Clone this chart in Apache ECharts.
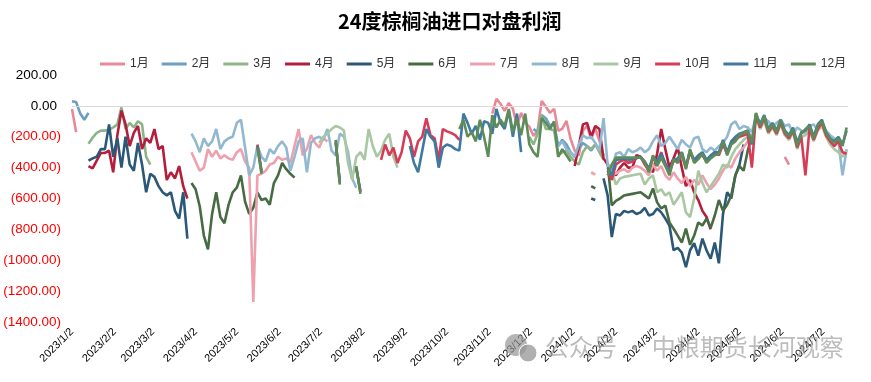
<!DOCTYPE html>
<html><head><meta charset="utf-8">
<script src="https://cdn.jsdelivr.net/npm/echarts@6/dist/echarts.min.js"></script>
<style>html,body{margin:0;padding:0;background:#fff}#c{width:871px;height:382px}</style>
</head><body><div id="c"></div>
<script>
// ---- axis definitions ----
const firstDay = '2023-01-02';
const lastDay = '2024-07-20';
const tickLabels = ['2023/1/2','2023/2/2','2023/3/2','2023/4/2','2023/5/2','2023/6/2','2023/7/2','2023/8/2','2023/9/2','2023/10/2','2023/11/2','2023/12/2','2024/1/2','2024/2/2','2024/3/2','2024/4/2','2024/5/2','2024/6/2','2024/7/2'];
const seriesNames = ['1月','2月','3月','4月','5月','6月','7月','8月','9月','10月','11月','12月'];
const STEP = 3; // values are read every 3 days; segment starts are given in 3-day steps from 2023/1/2

// ---- values ----
const jan23 = [-20,-170];
const jan24 = [-50,45,13,-32,19,-19,-129,-45,-110,-135,-194,-161,32,-6,-45,-19,-161,-148,-97,-213,-290,-323,-161,-129,-213,-148,-226,-323];
const jan25 = [-330,-380];
const feb23 = [30,25,-50,-90,-45];
const feb24 = [-150,-170,-60,-80,-130,-110,-260,-220,-250,-300,-330,-280,-240,-260,-290,-250,-280,-320];
const mar23 = [-245,-206,-175,-160,-160,-155,-140,-120,-10,-150,-110,-140,-100,-120,-330,-380];
const mar24 = [-200,-250,-180,-60,-150,-150,-160,-320,-300,-290,-330,-360,-380,-300,-260,-280,-250,-300,-350];
const apr23 = [-390,-405,-355,-305,-305,-290,-430,-190,-30,-120,-260,-175,-130,-280,-210,-240,-150,-280,-260,-480,-430,-470,-390,-520,-600];
const apr24 = [-390,-260,-120,-110,-200,-130,-150,-340,-380,-420,-450,-400,-370,-400,-400,-320,-330,-370,-400,-430,-310,-150,-280,-400,-340,-270,-400,-520,-480,-560,-610,-680,-720,-800];
const may23 = [-355,-340,-330,-280,-280,-120,-330,-210,-400,-200,-380,-420,-240,-380,-560,-440,-460,-520,-560,-580,-560,-680,-730,-560,-860];
const may24a = [-600,-610];
const may24 = [-470,-580,-850,-700,-710,-680,-690,-680,-700,-690,-660,-710,-700,-665,-690,-730,-775,-935,-920,-950,-1045,-935,-890,-970,-860,-935,-990,-885,-1020,-700,-560,-600,-450,-380,-250];
const jun23 = [-500,-540,-650,-840,-930,-700,-560,-720,-760,-640,-560,-530,-450,-620,-700,-660,-560,-610,-600,-640,-500,-450,-370,-410,-440,-465];
const jun24a = [-520,-535];
const jun24 = [-370,-645,-615,-600,-580,-575,-570,-565,-560,-580,-600,-535,-625,-665,-645,-755,-795,-840,-885,-795,-900,-840,-755,-775,-730,-790,-710,-610,-680,-640,-580,-450,-390,-420,-290,-194];
const jul23 = [-300,-360,-420,-400,-280,-330,-290,-340,-320,-340,-350,-300,-280,-360,-400,-1270,-450,-440,-420,-380,-370,-330,-350,-340,-370,-260,-150,-320,-280,-190,-240,-270,-210,-230];
const jul24a = [-430,-445];
const jul24 = [-380,-430,-440,-420,-410,-430,-400,-390,-400,-420,-450,-380,-420,-390,-450,-480,-430,-470,-500,-460,-520,-480,-510,-450,-500,-540,-510,-470,-420,-380,-400,-340,-300,-270,-230,-180];
const aug23 = [-180,-230,-300,-210,-260,-230,-150,-280,-230,-210,-200,-110,-90,-270,-450,-400,-260,-330,-360,-280,-310,-260,-230,-270,-420,-330,-230,-210,-430,-240,-210,-200,-220,-150,-290,-320,-180,-200,-300,-470,-530];
const aug24 = [-260,-230,-280,-300,-330,-250,-190,-210,-200,-240,-290,-80,-380,-420,-310,-300,-330,-280,-300,-290,-270,-300,-280,-230,-190,-260,-240,-200,-240,-280,-220,-250,-270,-210,-200,-280,-300,-270,-290,-260,-240,-200,-120,-100,-150,-130,-140,-170,-70,-110,-80,-100,-140,-110,-90,-130,-120,-180,-140,-160,-180,-130,-120,-160,-110,-160,-190,-210,-230,-450,-280];
const sep23 = [-240,-200,-180,-150,-130,-140,-160,-370,-480,-330,-300,-350,-150,-260,-330,-290,-220,-180,-330,-400];
const sep24 = [-420,-510,-470,-460,-455,-450,-445,-440,-510,-470,-450,-560,-540,-580,-560,-640,-600,-560,-690,-720,-600,-420,-500,-560,-520,-480,-440,-380,-400,-330,-280,-250,-220,-200,-230,-80,-150,-100,-180,-140,-190,-120,-190,-220,-170,-280,-200,-190,-160,-230,-160,-130,-200,-250,-280,-300,-330,-290];
const oct23a = [-250,-420];
const oct23b = [-230,-500];
const oct23c = [-400,-560];
const oct23 = [-350,-250,-320,-270,-370,-300,-160,-210,-330,-230,-200,-80,-190,-210,-350,-150,-165,-175,-190,-220];
const oct24 = [-420,-480,-380,-360,-350,-370,-360,-340,-330,-380,-420,-340,-370,-300,-380,-420,-360,-350,-320,-400,-300,-360,-330,-320,-360,-330,-300,-320,-250,-310,-240,-220,-200,-190,-180,-400,-60,-140,-80,-170,-130,-180,-110,-180,-210,-160,-270,-200,-450,-140,-220,-150,-110,-190,-230,-260,-230,-300,-310];
const nov23a = [-260,-430];
const nov23b = [-240,-490];
const nov23c = [-410,-550];
const nov23 = [-260,-370,-430,-290,-150,-200,-230,-400,-270,-250,-260,-280,-290,-50,-110,-180,-130,-220,-100,-110,-180,-20,-110,-150,-30,-200,-50,-300];
const nov24 = [-400,-450,-350,-345,-340,-350,-345,-335,-330,-360,-410,-330,-360,-310,-370,-430,-350,-340,-300,-390,-290,-350,-320,-300,-350,-320,-300,-300,-220,-300,-230,-200,-180,-170,-160,-250,-50,-120,-60,-150,-110,-160,-90,-160,-190,-140,-240,-170,-160,-120,-200,-120,-90,-170,-210,-230,-200,-250,-160];
const dec23a = [-270,-440];
const dec23b = [-220,-510];
const dec23c = [-390,-570];
const dec23 = [-150,-90,-200,-170,-230,-90,-200,-330,-60,-140,-90,-130,-20,-170,-80,-190,-50,-250,-300,-330,-80,-110,-150,-100,-330,-280,-320,-360];
const dec24 = [-450,-380,-335,-335,-335,-335,-335,-335,-335,-365,-430,-320,-390,-335,-390,-450,-345,-370,-300,-410,-280,-370,-345,-310,-370,-340,-320,-310,-230,-320,-250,-230,-190,-175,-160,-240,-45,-130,-65,-160,-120,-170,-95,-170,-200,-150,-260,-180,-150,-130,-210,-130,-100,-175,-215,-240,-210,-260,-140];

// segments: [start step, values]
const segJan = [[0,jan23],[102,jan24],[173,jan25]];
const segFeb = [[0,feb23],[112,feb24]];
const segMar = [[4,mar23],[111,mar24]];
const segApr = [[4,apr23],[122,apr24]];
const segMay = [[4,may23],[126,may24a],[129,may24]];
const segJun = [[29,jun23],[126,jun24a],[130,jun24]];
const segJul = [[29,jul23],[126,jul24a],[130,jul24]];
const segAug = [[29,aug23],[118,aug24]];
const segSep = [[60,sep23],[131,sep24]];
const segOct = [[45,oct23a],[64,oct23b],[69,oct23c],[75,oct23],[130,oct24]];
const segNov = [[45,nov23a],[64,nov23b],[69,nov23c],[82,nov23],[130,nov24]];
const segDec = [[45,dec23a],[64,dec23b],[69,dec23c],[94,dec23],[130,dec24]];
const allSegs = [segJan,segFeb,segMar,segApr,segMay,segJun,segJul,segAug,segSep,segOct,segNov,segDec];

const colors = ['#E8899A','#6A9FC2','#8DB489','#B31E3C','#2B5877','#476B42','#EDA1AE','#92B8D1','#A9C7A2','#D63B58','#3E79A2','#5E8C58'];

// ---- build daily categories ----
const cats = [];
{
  const d = new Date(firstDay + 'T00:00:00Z');
  const end = new Date(lastDay + 'T00:00:00Z');
  while (d <= end) {
    cats.push(d.getUTCFullYear() + '/' + (d.getUTCMonth() + 1) + '/' + d.getUTCDate());
    d.setUTCDate(d.getUTCDate() + 1);
  }
}
function build(segs) {
  const out = [];
  segs.forEach(([s, vals], i) => {
    if (i > 0) out.push([s * STEP - 1, null]);
    vals.forEach((v, k) => out.push([(s + k) * STEP, v]));
  });
  return out;
}

const series = seriesNames.map((name, i) => {
  const s = {
    name, type: 'line', data: build(allSegs[i]), showSymbol: false, symbol: 'none',
    connectNulls: false, lineStyle: { width: 2.6, color: colors[i] }, itemStyle: { color: colors[i] },
    silent: true
  };
  if (i === 0) {
    s.markLine = { silent: true, symbol: 'none', label: { show: false },
      lineStyle: { color: '#d9d9d9', width: 1, type: 'solid' }, data: [{ yAxis: 0 }] };
  }
  return s;
});

const chart = echarts.init(document.getElementById('c'), null, { renderer: 'canvas' });
chart.setOption({
  animation: false,
  backgroundColor: '#fff',
  title: {
    text: '24度棕榈油进口对盘利润', left: 333, top: 6,
    textStyle: { fontSize: 20, fontWeight: 'bold', color: '#000', fontFamily: 'Noto Sans CJK SC' }
  },
  legend: {
    data: seriesNames, left: 100, top: 58, padding: 0, icon: 'rect', itemWidth: 25, itemHeight: 3, itemGap: 13,
    textStyle: { fontSize: 12, color: '#333', fontFamily: 'Liberation Sans, Noto Sans CJK SC' }
  },
  grid: { left: 72, right: 23, top: 75, bottom: 60, containLabel: false },
  xAxis: {
    type: 'category', data: cats, boundaryGap: false,
    axisLine: { show: false }, axisTick: { show: false }, splitLine: { show: false },
    axisLabel: {
      interval: (idx, val) => tickLabels.includes(val), rotate: 45, margin: 8,
      fontSize: 11, color: '#000', fontFamily: 'Liberation Sans'
    }
  },
  yAxis: {
    type: 'value', min: -1400, max: 200, interval: 200,
    axisLine: { show: false }, axisTick: { show: false }, splitLine: { show: false },
    axisLabel: {
      margin: 11, fontSize: 13.5, fontFamily: 'Liberation Sans',
      formatter: v => v < 0 ? '{n|(' + Math.abs(v).toFixed(2) + ')}' : '{p|' + v.toFixed(2) + '}',
      rich: {
        n: { color: '#ff0000', fontSize: 13.5, fontFamily: 'Liberation Sans' },
        p: { color: '#000', fontSize: 13.5, fontFamily: 'Liberation Sans', padding: [0, 4, 0, 0] }
      }
    }
  },
  graphic: [
    { type: 'circle', z: 100, shape: { cx: 516, cy: 345, r: 11 }, style: { fill: 'rgba(150,150,150,0.7)' } },
    { type: 'circle', z: 101, shape: { cx: 528, cy: 353, r: 9 }, style: { fill: 'rgba(150,150,150,0.75)', stroke: '#fff', lineWidth: 1 } },
    { type: 'text', z: 102, left: 545, top: 335, style: { text: '公众号 · 中粮期货长河观察', fontSize: 24, fill: 'rgba(160,160,160,0.7)', fontFamily: 'Noto Sans CJK SC' } }
  ],
  series
});
</script>
</body></html>
